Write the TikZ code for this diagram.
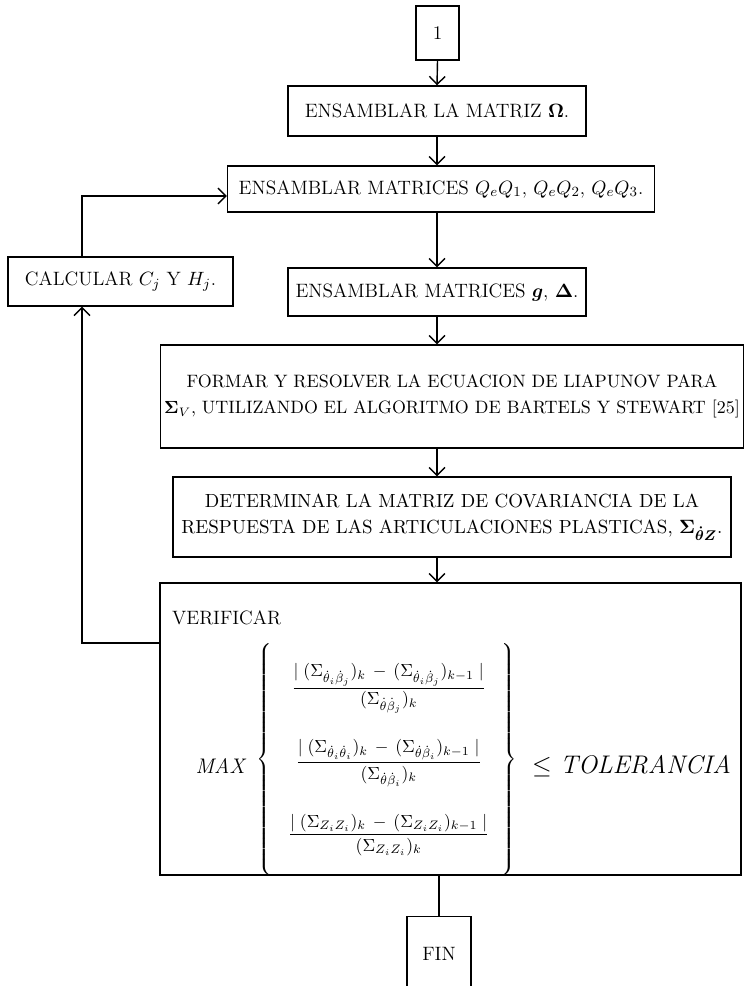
\documentclass[tikz,border=0pt]{standalone}
\usepackage{tikz}
\usetikzlibrary{arrows.meta, positioning, calc}
\usepackage{amsmath, amssymb}

\begin{document}
\begin{tikzpicture}[
    x=0.02cm, y=-0.02cm,
    >={Straight Barb[length=4.5pt, width=9pt]},
    procbox/.style={
        rectangle, draw, line width=0.8pt, align=center, inner sep=2pt,
        font=\fontsize{11}{15}\selectfont
    },
    arr/.style={draw, line width=0.8pt, ->},
    lnk/.style={draw, line width=0.8pt},
]
\useasboundingbox (0,0) rectangle (747,986);

% ================================================================
%  MAIN CHAIN
% ================================================================
\coordinate (axis) at (437,0);

\node[procbox, minimum width=0.86cm, minimum height=1.08cm] (start) at (437.5,33) {1};
\node[procbox, minimum width=5.96cm, minimum height=1.0cm]  (omega) at (437,111)
    {ENSAMBLAR LA MATRIZ $\mathbf{\Omega}$.};
\node[procbox, minimum width=8.54cm, minimum height=0.92cm] (qmat) at (441,189)
    {ENSAMBLAR MATRICES $Q_eQ_1$, $Q_eQ_2$, $Q_eQ_3$.};
\node[procbox, minimum width=5.96cm, minimum height=0.96cm] (gmat) at (437,292)
    {ENSAMBLAR MATRICES $\boldsymbol{g}$, $\mathbf{\Delta}$.};
\node[procbox, minimum width=11.16cm, minimum height=2.06cm,
      font=\fontsize{10.2}{15}\selectfont] (liap) at (452,396.5)
    {FORMAR Y RESOLVER LA ECUACION DE LIAPUNOV PARA\\
     $\mathbf{\Sigma}_{V}$, UTILIZANDO EL ALGORITMO DE BARTELS Y STEWART [25]};
\node[procbox, minimum width=11.16cm, minimum height=1.6cm,
      font=\fontsize{10.8}{15}\selectfont] (cov) at (452,517)
    {DETERMINAR LA MATRIZ DE COVARIANCIA DE LA\\
     RESPUESTA DE LAS ARTICULACIONES PLASTICAS, $\mathbf{\Sigma}_{\boldsymbol{\dot\theta Z}}$.};
\node[procbox, minimum width=11.62cm, minimum height=5.84cm] (verif) at (450.5,729) {};
\node[procbox, minimum width=1.28cm, minimum height=1.5cm] (fin) at (439,954) {FIN};

% ================================================================
%  VERIFY BOX CONTENTS
% ================================================================
\node[anchor=west, font=\fontsize{11}{13}\selectfont] (verif_lbl) at (166,618) {VERIFICAR};
\node[font=\fontsize{12}{14}\selectfont] (max_lbl) at (221,766) {\textit{MAX}};
\node[font=\fontsize{10}{12}\selectfont] (fracs) at (387,760)
    {$\left\{\vrule height 64pt depth 64pt width 0pt\hspace{4pt}\begin{array}{c}
      \dfrac{|\;(\Sigma_{\dot\theta_i\dot\beta_j})_k\,-\,(\Sigma_{\dot\theta_i\dot\beta_j})_{k-1}\;|}{(\Sigma_{\dot\theta\dot\beta_j})_k}\\[23pt]
      \dfrac{|\;(\Sigma_{\dot\theta_i\dot\theta_i})_k\,-\,(\Sigma_{\dot\theta\dot\beta_i})_{k-1}\;|}{(\Sigma_{\dot\theta\dot\beta_i})_k}\\[23pt]
      \dfrac{|\;(\Sigma_{Z_iZ_i})_k\,-\,(\Sigma_{Z_iZ_i})_{k-1}\;|}{(\Sigma_{Z_iZ_i})_k}
    \end{array}\hspace{2pt}\right\}$};
\node[anchor=west, font=\fontsize{14.5}{16}\selectfont] (tol_lbl) at (526,766) {$\leq$\ \textit{TOLERANCIA}};

% ================================================================
%  FEEDBACK LOOP
% ================================================================
\node[procbox, minimum width=4.5cm, minimum height=0.98cm] (calc) at (120.5,281.5)
    {CALCULAR $C_j$ Y $H_j$.};
\coordinate (fb_low) at (82,643);
\coordinate (fb_top) at (82,196);

% --- arrows along the main chain ---
\draw[arr] (start.south) -- (omega.north);
\draw[arr] (axis |- omega.south) -- (axis |- qmat.north);
\draw[arr] (axis |- qmat.south) -- (axis |- gmat.north);
\draw[arr] (axis |- gmat.south) -- (axis |- liap.north);
\draw[arr] (axis |- liap.south) -- (axis |- cov.north);
\draw[arr] (axis |- cov.south) -- (axis |- verif.north);
\draw[lnk] (fin.north |- verif.south) -- (fin.north);

% --- back to the matrices ---
\draw[arr] (verif.west |- fb_low) -- (fb_low) -- (fb_low |- calc.south);
\draw[arr] (fb_top |- calc.north) -- (fb_top) -- (qmat.west |- fb_top);

\end{tikzpicture}
\end{document}
